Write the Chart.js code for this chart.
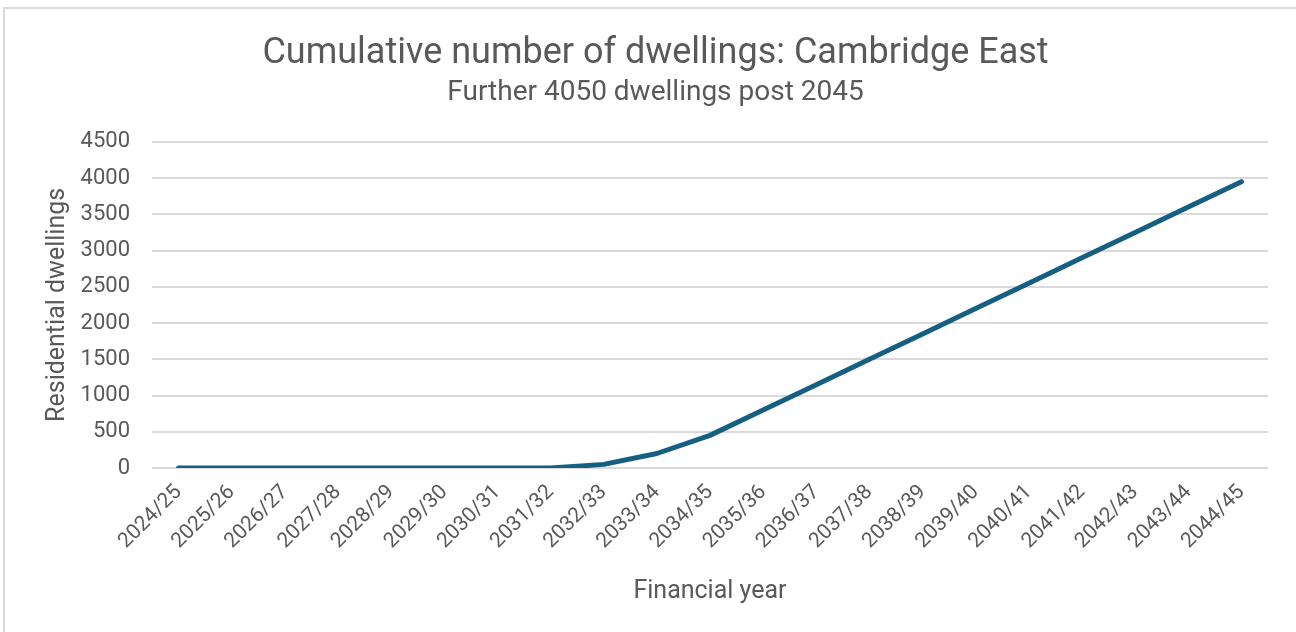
<!DOCTYPE html>
<html>
<head>
<meta charset="utf-8">
<script src="https://cdn.jsdelivr.net/npm/chart.js@4"></script>
<style>
  html, body { margin: 0; padding: 0; background: #fff; }
  #wrap {
    position: absolute; left: 3px; top: 7px; width: 1293px; height: 625px;
    border-left: 2px solid #d9d9d9; border-top: 2px solid #d9d9d9;
    box-sizing: border-box;
  }
  canvas { position: absolute; left: 0; top: 0; }
</style>
</head>
<body>
<div id="wrap"></div>
<canvas id="dwellingChart" width="1296" height="632"></canvas>
<script>
const years = [
  "2024/25", "2025/26", "2026/27", "2027/28", "2028/29", "2029/30", "2030/31",
  "2031/32", "2032/33", "2033/34", "2034/35", "2035/36", "2036/37", "2037/38",
  "2038/39", "2039/40", "2040/41", "2041/42", "2042/43", "2043/44", "2044/45"
];
const cumulativeDwellings = [
  0, 0, 0, 0, 0, 0, 0,
  0, 50, 200, 450, 800, 1150, 1500,
  1850, 2200, 2550, 2900, 3250, 3600, 3950
];
const yTicks = [0, 500, 1000, 1500, 2000, 2500, 3000, 3500, 4000, 4500];

const fontFamily = "Roboto, 'Liberation Sans', sans-serif";
const textColor = "#595959";

document.addEventListener("DOMContentLoaded", function () {
  const ctx = document.getElementById("dwellingChart").getContext("2d");

  new Chart(ctx, {
    type: "line",
    data: {
      labels: years,
      datasets: [
        {
          label: "Cumulative dwellings",
          data: cumulativeDwellings,
          borderColor: "#156082",
          borderWidth: 5,
          borderCapStyle: "round",
          borderJoinStyle: "round",
          pointRadius: 0,
          tension: 0,
          fill: false,
        },
      ],
    },
    options: {
      responsive: false,
      animation: false,
      layout: { padding: { left: 43, right: 28, top: 0, bottom: 25 } },
      plugins: {
        legend: { display: false },
        tooltip: { enabled: false },
        title: {
          display: true,
          text: "Cumulative number of dwellings: Cambridge East",
          color: textColor,
          font: { family: fontFamily, size: 36, weight: "normal" },
          padding: { top: 32, bottom: 1 },
        },
        subtitle: {
          display: true,
          text: "Further 4050 dwellings post 2045",
          color: textColor,
          font: { family: fontFamily, size: 28, weight: "normal" },
          padding: { top: 0, bottom: 32 },
        },
      },
      scales: {
        x: {
          offset: true,
          grid: { display: false },
          border: { display: false },
          ticks: {
            autoSkip: false,
            maxRotation: 45,
            minRotation: 45,
            color: textColor,
            font: { family: fontFamily, size: 21 },
            padding: 4,
          },
          title: {
            display: true,
            text: "Financial year",
            color: textColor,
            font: { family: fontFamily, size: 25 },
            padding: { top: 10, bottom: 0 },
          },
          afterFit: (scale) => { scale.height = 632 - 468 - 25; },
        },
        y: {
          min: 0,
          max: 4500,
          afterBuildTicks: (scale) => {
            scale.ticks = yTicks.map((v) => ({ value: v }));
          },
          grid: { color: "#d9d9d9", lineWidth: 2, drawTicks: false },
          border: { display: false },
          ticks: {
            color: textColor,
            font: { family: fontFamily, size: 22 },
            padding: 22,
            callback: (value) => String(value),
          },
          title: {
            display: true,
            text: "Residential dwellings",
            color: textColor,
            font: { family: fontFamily, size: 25 },
            padding: { top: 0, bottom: 0 },
          },
          afterFit: (scale) => { scale.width = 152 - 43; },
        },
      },
    },
  });
});
</script>
</body>
</html>
